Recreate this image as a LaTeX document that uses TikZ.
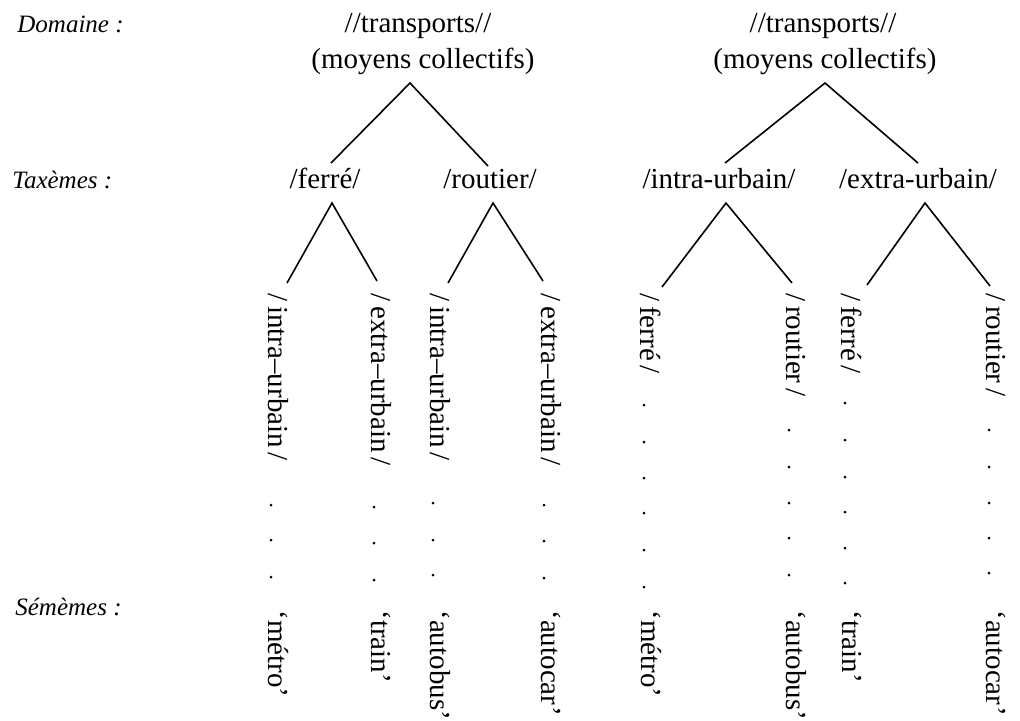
\documentclass[tikz,border=0pt]{standalone}
\usepackage{fontspec}
\setmainfont{Liberation Serif}
\begin{document}
\begin{tikzpicture}[x=0.5pt,y=-0.5pt,
  lbl/.style={font=\fontsize{12.5}{15}\selectfont\itshape, anchor=base west, inner sep=0pt},
  word/.style={font=\fontsize{14.5}{17}\selectfont, anchor=base, inner sep=0pt},
  vword/.style={font=\fontsize{14.5}{17}\selectfont, anchor=west, rotate=-90, inner sep=0pt},
  edge/.style={line width=0.8pt},
  dotm/.style={fill=black}]
\useasboundingbox (0,0) rectangle (1020,720);
% level labels
\node[lbl] (ldom) at (17,32) {Domaine :};
\node[lbl] (ltax) at (12,188) {Taxèmes :};
\node[lbl] (lsem) at (15,615) {Sémèmes :};
% roots
\node[word] (r1a) at (418,32) {//transports//};
\node[word] (r1b) at (423,68) {(moyens collectifs)};
\node[word] (r2a) at (823,32) {//transports//};
\node[word] (r2b) at (825,68) {(moyens collectifs)};
% taxemes
\node[word] (tfer) at (325,188) {/ferré/};
\node[word] (trou) at (490,188) {/routier/};
\node[word] (tint) at (719,188) {/intra-urbain/};
\node[word] (text) at (918,188) {/extra-urbain/};
% connector points
\coordinate (a1) at (410,83);  \coordinate (a1l) at (331,163); \coordinate (a1r) at (488,166);
\coordinate (a2) at (825,83);  \coordinate (a2l) at (725,163); \coordinate (a2r) at (918,163);
\coordinate (bf) at (332,203); \coordinate (bfl) at (287,283); \coordinate (bfr) at (377,281);
\coordinate (br) at (493,203); \coordinate (brl) at (448,283); \coordinate (brr) at (543,281);
\coordinate (bi) at (726,203); \coordinate (bil) at (662,287); \coordinate (bir) at (792,283);
\coordinate (be) at (925,203); \coordinate (bel) at (867,285); \coordinate (ber) at (990,286);
\draw[edge] (a1l) -- (a1) -- (a1r);
\draw[edge] (a2l) -- (a2) -- (a2r);
\draw[edge] (bfl) -- (bf) -- (bfr);
\draw[edge] (brl) -- (br) -- (brr);
\draw[edge] (bil) -- (bi) -- (bir);
\draw[edge] (bel) -- (be) -- (ber);
% vertical sub-taxemes
\node[vword] (v1) at (278,293) {/\,intra--urbain\,/};
\node[vword] (v2) at (381,293) {/\,extra--urbain\,/};
\node[vword] (v3) at (440,293) {/\,intra--urbain\,/};
\node[vword] (v4) at (551,293) {/\,extra--urbain\,/};
\node[vword] (v5) at (651,293) {/\,ferré\,/};
\node[vword] (v6) at (796,293) {/\,routier\,/};
\node[vword] (v7) at (852,293) {/\,ferré\,/};
\node[vword] (v8) at (996,293) {/\,routier\,/};
% sememes
\node[vword] (s1) at (278,610) {‘métro’};
\node[vword] (s2) at (381,610) {‘train’};
\node[vword] (s3) at (440,610) {‘autobus’};
\node[vword] (s4) at (551,610) {‘autocar’};
\node[vword] (s5) at (651,610) {‘métro’};
\node[vword] (s6) at (796,610) {‘autobus’};
\node[vword] (s7) at (852,610) {‘train’};
\node[vword] (s8) at (996,610) {‘autocar’};
% dots
\foreach \y in {505,540,577} \fill[dotm] (271,\y) circle (1.5);
\foreach \y in {507,543,580} \fill[dotm] (374,\y) circle (1.5);
\foreach \y in {503,540,575} \fill[dotm] (433,\y) circle (1.5);
\foreach \y in {505,541,578} \fill[dotm] (544,\y) circle (1.5);
\foreach \y in {405,442,478,513,550,587} \fill[dotm] (644,\y) circle (1.5);
\foreach \y in {430,467,503,538,575} \fill[dotm] (789,\y) circle (1.5);
\foreach \y in {403,440,477,512,548,583} \fill[dotm] (845,\y) circle (1.5);
\foreach \y in {430,467,503,538,573} \fill[dotm] (989,\y) circle (1.5);
\end{tikzpicture}
\end{document}
